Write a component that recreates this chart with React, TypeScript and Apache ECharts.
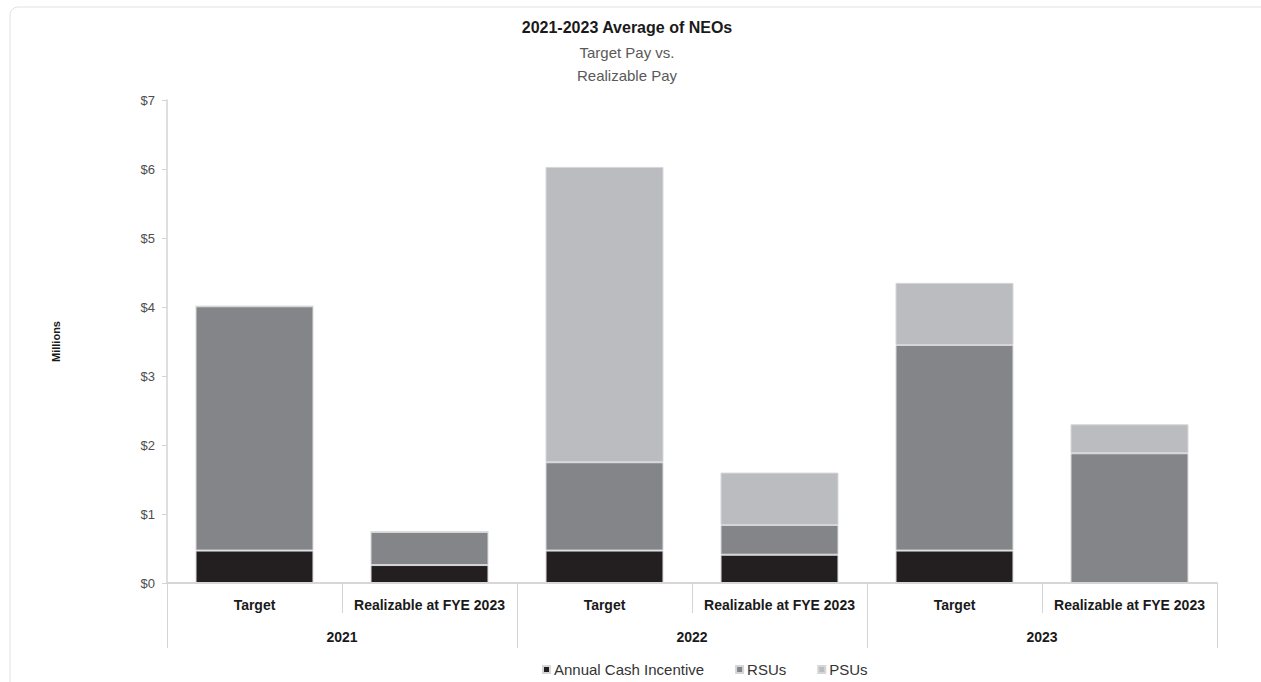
import React, { useEffect, useRef } from "react";
import * as echarts from "echarts";

const categories = [
  "Target",
  "Realizable at FYE 2023",
  "Target",
  "Realizable at FYE 2023",
  "Target",
  "Realizable at FYE 2023",
];
const years = ["2021", "2022", "2023"];
const annualCashIncentive = [0.47, 0.26, 0.47, 0.41, 0.47, 0];
const rsus = [3.54, 0.48, 1.28, 0.43, 2.98, 1.88];
const psus = [0, 0, 4.28, 0.76, 0.9, 0.42];
const yTicks = [0, 1, 2, 3, 4, 5, 6, 7];

const NARROW = '"Liberation Sans Narrow", "Arial Narrow", "Liberation Sans", sans-serif';
const SANS = '"Liberation Sans", Arial, sans-serif';

export default function App() {
  const ref = useRef<HTMLDivElement>(null);

  useEffect(() => {
    if (!ref.current) return;
    const chart = echarts.init(ref.current, undefined, { renderer: "svg" });

    const barStyle = (color: string) => ({
      color,
      borderColor: "#d6d6d8",
      borderWidth: 1,
    });

    chart.setOption({
      animation: false,
      backgroundColor: "#ffffff",
      graphic: [
        {
          type: "rect",
          shape: { x: 10, y: 7, width: 1280, height: 700, r: 8 },
          style: { fill: "none", stroke: "#e2e2e2", lineWidth: 1 },
          silent: true,
        },
      ],
      title: {
        text: "2021-2023 Average of NEOs",
        subtext: "Target Pay vs.\nRealizable Pay",
        left: 622,
        textAlign: "center",
        top: 14,
        itemGap: 6,
        textStyle: {
          fontFamily: NARROW,
          fontWeight: "bold",
          fontSize: 16,
          color: "#1a1a1a",
        },
        subtextStyle: {
          fontFamily: NARROW,
          fontSize: 15,
          color: "#595959",
          lineHeight: 23,
        },
      },
      legend: {
        bottom: 0,
        left: 537,
        icon: "rect",
        itemWidth: 7,
        itemHeight: 7,
        itemGap: 31,
        textStyle: { fontFamily: SANS, fontSize: 15, color: "#333333", padding: [0, 0, 0, -1] },
        data: ["Annual Cash Incentive", "RSUs", "PSUs"],
      },
      grid: { left: 167, right: 44, top: 100, bottom: 99, containLabel: false },
      xAxis: [
        {
          type: "category",
          data: categories,
          position: "bottom",
          axisLine: { show: true, lineStyle: { color: "#d4d4d4", width: 1.5 } },
          axisTick: { show: true, length: 30, lineStyle: { color: "#d4d4d4" } },
          axisLabel: {
            interval: 0,
            margin: 15,
            fontFamily: NARROW,
            fontWeight: "bold",
            fontSize: 14,
            color: "#1a1a1a",
          },
        },
        {
          type: "category",
          data: years,
          position: "bottom",
          axisLine: { show: true, lineStyle: { color: "#d4d4d4", width: 1.5 } },
          axisTick: { show: true, length: 65, lineStyle: { color: "#d4d4d4" } },
          axisLabel: {
            interval: 0,
            margin: 47,
            fontFamily: NARROW,
            fontWeight: "bold",
            fontSize: 14,
            color: "#1a1a1a",
          },
        },
      ],
      yAxis: {
        type: "value",
        min: 0,
        max: 7,
        interval: 1,
        name: "Millions",
        nameLocation: "middle",
        nameGap: 106,
        nameTextStyle: { fontFamily: SANS, fontWeight: "bold", fontSize: 11, color: "#1a1a1a" },
        axisLine: { show: true, lineStyle: { color: "#d4d4d4", width: 1.5 } },
        axisTick: { show: true, length: 5, lineStyle: { color: "#d4d4d4" } },
        splitLine: { show: false },
        axisLabel: {
          margin: 12,
          fontFamily: SANS,
          fontSize: 13,
          color: "#4d4d4d",
          formatter: (v: number) => (yTicks.includes(v) ? `$${v}` : ""),
        },
      },
      series: [
        {
          name: "Annual Cash Incentive",
          type: "bar",
          stack: "pay",
          xAxisIndex: 0,
          barCategoryGap: "32.6%",
          itemStyle: barStyle("#231f20"),
          data: annualCashIncentive,
        },
        {
          name: "RSUs",
          type: "bar",
          stack: "pay",
          xAxisIndex: 0,
          itemStyle: barStyle("#848589"),
          data: rsus,
        },
        {
          name: "PSUs",
          type: "bar",
          stack: "pay",
          xAxisIndex: 0,
          itemStyle: barStyle("#bbbcc0"),
          data: psus,
        },
      ],
    });

    return () => chart.dispose();
  }, []);

  return (
    <div
      ref={ref}
      style={{ position: "fixed", left: 0, top: 0, width: 1261, height: 682 }}
    />
  );
}
